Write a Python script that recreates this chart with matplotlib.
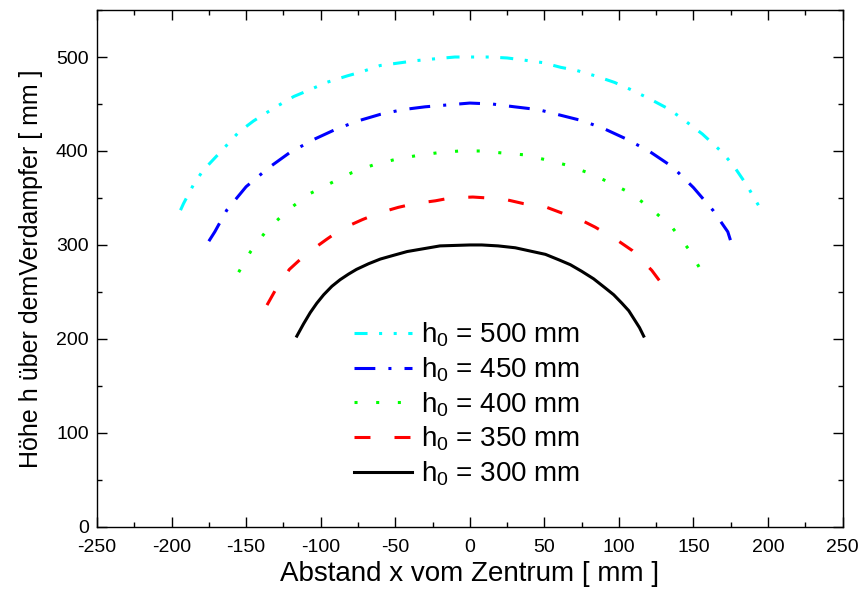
import matplotlib
matplotlib.use("Agg")
import matplotlib.pyplot as plt
from matplotlib.ticker import MultipleLocator

plt.rcParams['font.family'] = ['Liberation Sans', 'DejaVu Sans']
plt.rcParams['mathtext.fontset'] = 'custom'
plt.rcParams['mathtext.rm'] = 'Liberation Sans'
plt.rcParams['mathtext.it'] = 'Liberation Sans'
plt.rcParams['lines.scale_dashes'] = False
plt.rcParams['axes.unicode_minus'] = False

# values
x500 = [-194, -192, -185, -179, -166, -155, -145, -131, -118, -109, -96, -82, -73, -60, -46, -37, -24, -10,
        -1, 13, 25, 35, 49, 61, 71, 84, 97, 107, 120, 133, 142, 156, 169, 177, 186, 194]
y500 = [337, 344, 365, 379, 401, 420, 432, 446, 458, 464, 473, 480, 484, 491, 494, 496, 498, 500,
        500, 500, 499, 497, 494, 489, 486, 480, 473, 466, 456, 445, 435, 418, 399, 384, 363, 341]

x450 = [-175, -171, -163, -150, -135, -121, -105, -90, -75, -60, -45, -30, -15, 0,
        15, 30, 46, 61, 76, 91, 106, 121, 136, 150, 163, 173, 175]
y450 = [304, 314, 337, 362, 382, 398, 412, 423, 432, 439, 444, 447, 449, 451,
        450, 447, 444, 438, 432, 423, 412, 399, 383, 361, 337, 314, 304]

x400 = [-155, -147, -136, -122, -108, -93, -79, -65, -50, -36, -22, -7,
        7, 21, 36, 50, 65, 79, 93, 108, 122, 136, 147, 155]
y400 = [271, 293, 316, 337, 354, 366, 377, 385, 391, 395, 398, 400,
        400, 398, 396, 391, 385, 377, 367, 355, 338, 318, 295, 273]

x350 = [-136, -130, -121, -110, -96, -86, -72, -61, -48, -37, -23, -13,
        2, 12, 25, 36, 50, 60, 74, 84, 98, 109, 122, 130]
y350 = [236, 253, 274, 290, 306, 317, 327, 334, 340, 344, 347, 350,
        351, 350, 348, 344, 341, 335, 327, 319, 306, 294, 273, 256]

x300 = [-116, -111.5, -107, -102.6, -98, -92.5, -87, -81.3, -76, -67.9, -60, -51.1, -42, -31, -20, 0,
        8, 19, 30.5, 42, 50.7, 60, 67.4, 75, 83, 91, 96.5, 102, 106.6, 111, 113.8, 116.6]
y300 = [203, 216, 228, 238, 247, 256, 263, 269, 274, 280, 285, 289, 293, 296, 299, 300,
        300, 299, 297, 293, 290, 284, 279, 272, 264, 254, 247, 238, 230, 219, 212, 203]

labels = ['h$_0$ = 500 mm', 'h$_0$ = 450 mm', 'h$_0$ = 400 mm', 'h$_0$ = 350 mm', 'h$_0$ = 300 mm']

fig = plt.figure(figsize=(8.66, 5.9), dpi=100)
ax = fig.add_axes([0.112, 0.107, 0.861, 0.876])

lw = 2.2
ax.plot(x500, y500, color='#00ffff', lw=lw, dash_capstyle='butt',
        linestyle=(0, (9.4, 8.3, 2.2, 8.3, 2.2, 8.3)), label=labels[0])
ax.plot(x450, y450, color='#0000ff', lw=lw, dash_capstyle='butt',
        linestyle=(0, (15, 9.4, 2.2, 9.4)), label=labels[1])
ax.plot(x400, y400, color='#00ff00', lw=lw, dash_capstyle='butt',
        linestyle=(0, (2.2, 13.4)), label=labels[2])
ax.plot(x350, y350, color='#ff0000', lw=lw, dash_capstyle='butt',
        linestyle=(0, (11.5, 17.3)), label=labels[3])
ax.plot(x300, y300, color='black', lw=lw, solid_joinstyle='round', label=labels[4])

ax.set_xlim(-250, 250)
ax.set_ylim(0, 550)
ax.xaxis.set_major_locator(MultipleLocator(50))
ax.xaxis.set_minor_locator(MultipleLocator(25))
ax.yaxis.set_major_locator(MultipleLocator(100))
ax.yaxis.set_minor_locator(MultipleLocator(50))
ax.tick_params(which='both', direction='in', top=True, right=True, width=1.0, labelsize=14)
ax.tick_params(which='major', length=7, pad=6)
ax.tick_params(which='minor', length=3.6)
ax.tick_params(axis='x', which='major', pad=9)
for s in ax.spines.values():
    s.set_linewidth(1.0)

ax.set_xlabel('Abstand x vom Zentrum [ mm ]', fontsize=20, labelpad=3)
ax.set_ylabel('Höhe h über demVerdampfer [ mm ]', fontsize=18, labelpad=9)

ax.legend(loc='upper left', bbox_to_anchor=(0.33, 0.42), frameon=False, fontsize=20,
          handlelength=2.1, handletextpad=0.3, labelspacing=0.22, borderaxespad=0)

fig.savefig('out.png', dpi=100)
